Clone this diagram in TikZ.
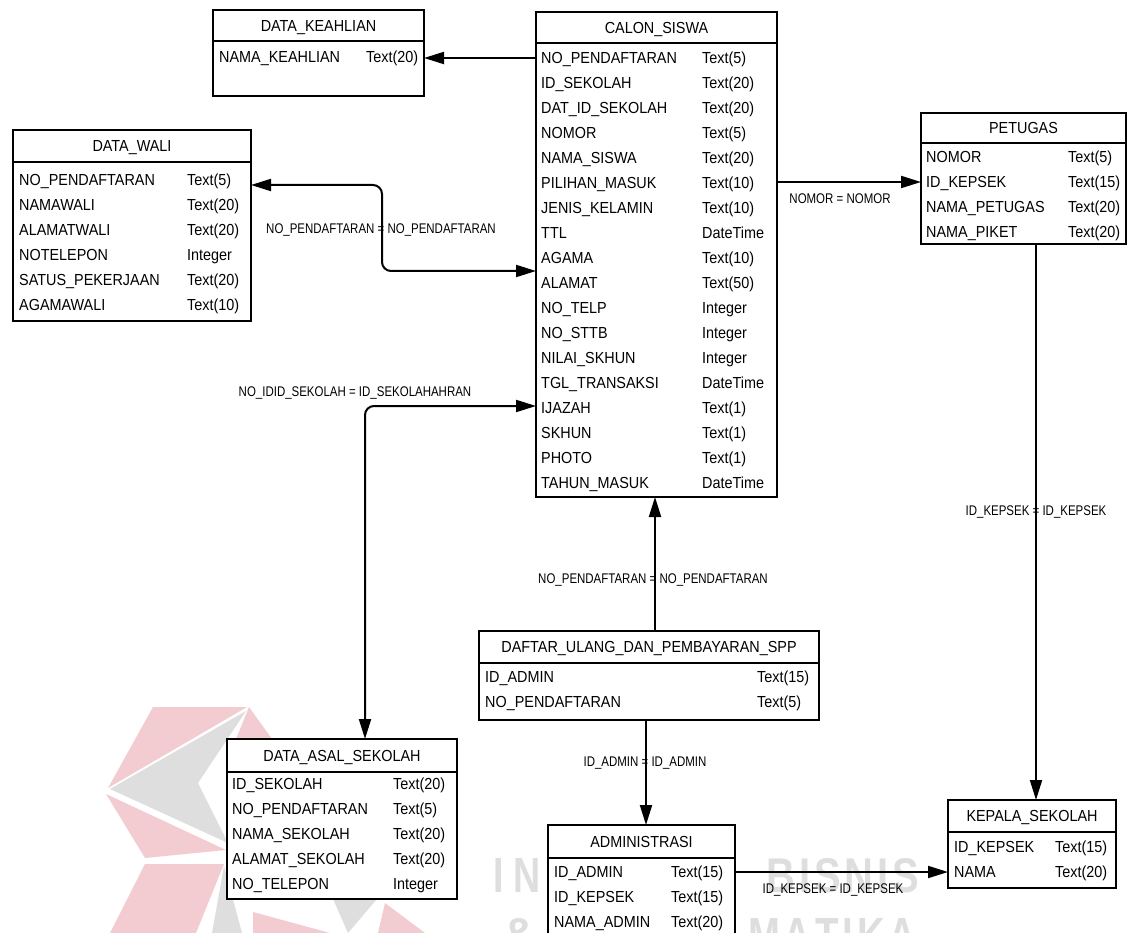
\documentclass[tikz,border=0pt]{standalone}
\usepackage{fontspec}
\usepackage{graphicx}
\setmainfont{Liberation Sans}
\newfontfamily\tblfont[FakeStretch=0.9]{Liberation Sans}
\newfontfamily\relfont[FakeStretch=0.82]{Liberation Sans}
\usetikzlibrary{arrows.meta}

\definecolor{wmpink}{HTML}{F2CCD0}
\definecolor{wmgray}{HTML}{DEDEDE}

\tikzset{
  tablebox/.style={draw, line width=1.6pt, fill=white, inner sep=0pt, outer sep=0pt},
  hdr/.style={line width=1.6pt},
  cell/.style={anchor=base west, inner sep=0pt, font=\tblfont\fontsize{16}{16}\selectfont},
  ttl/.style={anchor=base, inner sep=0pt, font=\tblfont\fontsize{16}{16}\selectfont},
  rel/.style={line width=2pt},
  arr/.style={-{Triangle[length=20pt,width=12pt]}},
  arrboth/.style={{Triangle[length=20pt,width=12pt]}-{Triangle[length=20pt,width=12pt]}},
  lbl/.style={anchor=base, inner sep=0pt, font=\relfont\fontsize{14}{14}\selectfont},
  wmpart/.style={fill=wmpink, draw=none},
  wmgrey/.style={fill=wmgray, draw=none},
  wmword/.style={anchor=north west, inner sep=0pt, text=wmgray},
}

% table frame with a title band: name, left, top, right, bottom, title rule y, title
\newcommand{\entity}[7]{%
  \node[tablebox, minimum width={(#4)-(#2)}, minimum height={(#5)-(#3)}]
    (#1) at ({((#2)+(#4))/2},{((#3)+(#5))/2}) {};
  \draw[hdr] (#1.west |- 0,#6) -- (#1.east |- 0,#6);
  \node[ttl] (#1-title) at ({((#2)+(#4))/2},{((#3)+(#6))/2+5.7}) {#7};
}
% column rows: prefix, name x, type x, first row y, list of name/type
\newcommand{\fields}[5]{%
  \foreach \fn/\ft [count=\i from 0] in {#5} {
    \node[cell] (#1-n\i) at (#2,{#4+25*\i+5.7}) {\fn};
    \node[cell] (#1-t\i) at (#3,{#4+25*\i+5.7}) {\ft};
  }%
}

\begin{document}
\begin{tikzpicture}[x=1pt, y=-1pt]
\useasboundingbox (0,0) rectangle (1132,933);
\fill[white] (0,0) rectangle (1132,933);

% ---- faint logo and lettering in the background ----
\fill[wmpart] (153,707) -- (247,707) -- (108,788) -- cycle;
\fill[wmpart] (249,707) -- (272,739) -- (236,739) -- cycle;
\fill[wmgrey] (110,789) -- (246,711) -- (198,783) -- (228,843) -- cycle;
\fill[wmpart] (106,794) -- (226,850) -- (145,858) -- cycle;
\fill[wmpart] (145,864) -- (224,864) -- (196,933) -- (110,933) -- cycle;
\fill[wmgrey] (224,866) -- (242,933) -- (212,933) -- cycle;
\fill[wmpart] (253,912) -- (330,933) -- (253,933) -- cycle;
\fill[wmgrey] (333,899) -- (377,899) -- (348,933) -- cycle;
\fill[wmpart] (385,903) -- (425,933) -- (378,933) -- cycle;
\node[wmword] (wm1) at (493,858) {\resizebox{47pt}{34pt}{\bfseries I\kern0.25em N}};
\node[wmword] (wm2) at (766,858) {\resizebox{153pt}{34pt}{\bfseries B\kern0.1em I\kern0.1em S\kern0.1em N\kern0.1em I\kern0.1em S}};
\node[wmword] (wm3) at (501,918) {\resizebox{36pt}{34pt}{\bfseries \&}};
\node[wmword] (wm4) at (748,918) {\resizebox{168pt}{34pt}{\bfseries M\kern0.1em A\kern0.1em T\kern0.1em I\kern0.1em K\kern0.1em A}};

% ---- tables ----
\entity{keahlian}{213}{10}{424}{96}{41}{DATA\_KEAHLIAN}
\fields{keahlian}{219}{366}{57}{NAMA\_KEAHLIAN/Text(20)}

\entity{calon}{536}{12}{777}{497}{43}{CALON\_SISWA}
\fields{calon}{541}{702}{58}{NO\_PENDAFTARAN/Text(5), ID\_SEKOLAH/Text(20),
  DAT\_ID\_SEKOLAH/Text(20), NOMOR/Text(5), NAMA\_SISWA/Text(20),
  PILIHAN\_MASUK/Text(10), JENIS\_KELAMIN/Text(10), TTL/DateTime,
  AGAMA/Text(10), ALAMAT/Text(50), NO\_TELP/Integer, NO\_STTB/Integer,
  NILAI\_SKHUN/Integer, TGL\_TRANSAKSI/DateTime, IJAZAH/Text(1),
  SKHUN/Text(1), PHOTO/Text(1), TAHUN\_MASUK/DateTime}

\entity{wali}{13}{130}{251}{321}{162}{DATA\_WALI}
\fields{wali}{19}{187}{180}{NO\_PENDAFTARAN/Text(5), NAMAWALI/Text(20),
  ALAMATWALI/Text(20), NOTELEPON/Integer, SATUS\_PEKERJAAN/Text(20),
  AGAMAWALI/Text(10)}

\entity{petugas}{921}{113}{1126}{244}{143}{PETUGAS}
\fields{petugas}{926}{1068}{157}{NOMOR/Text(5), ID\_KEPSEK/Text(15),
  NAMA\_PETUGAS/Text(20), NAMA\_PIKET/Text(20)}

\entity{daftar}{479}{631}{819}{720}{663}{DAFTAR\_ULANG\_DAN\_PEMBAYARAN\_SPP}
\fields{daftar}{485}{757}{677}{ID\_ADMIN/Text(15), NO\_PENDAFTARAN/Text(5)}

\entity{asal}{227}{739}{457}{899}{772}{DATA\_ASAL\_SEKOLAH}
\fields{asal}{232}{393}{784}{ID\_SEKOLAH/Text(20), NO\_PENDAFTARAN/Text(5),
  NAMA\_SEKOLAH/Text(20), ALAMAT\_SEKOLAH/Text(20), NO\_TELEPON/Integer}

\entity{admin}{548}{825}{735}{950}{858}{ADMINISTRASI}
\fields{admin}{554}{671}{872}{ID\_ADMIN/Text(15), ID\_KEPSEK/Text(15),
  NAMA\_ADMIN/Text(20)}

\entity{kepala}{948}{800}{1116}{888}{832}{KEPALA\_SEKOLAH}
\fields{kepala}{954}{1055}{847}{ID\_KEPSEK/Text(15), NAMA/Text(20)}

% ---- references ----
\draw[rel, arr] (calon.west |- 0,58) -- (keahlian.east |- 0,58);
\draw[rel, arrboth, rounded corners=9pt]
  (wali.east |- 0,185) -| (382,228) |- (calon.west |- 0,271);
\draw[rel, arrboth, rounded corners=9pt]
  (calon.west |- 0,406) -| (asal.north -| 365,0);
\draw[rel, arr] (daftar.north -| 655,0) -- (calon.south -| 655,0);
\draw[rel, arr] (daftar.south -| 646,0) -- (admin.north -| 646,0);
\draw[rel, arr] (calon.east |- 0,182) -- (petugas.west |- 0,182);
\draw[rel, arr] (petugas.south -| 1036,0) -- (kepala.north -| 1036,0);
\draw[rel, arr] (admin.east |- 0,872) -- (kepala.west |- 0,872);

% ---- reference labels ----
\node[lbl] (r1) at (381,234) {NO\_PENDAFTARAN = NO\_PENDAFTARAN};
\node[lbl] (r2) at (355,396) {NO\_IDID\_SEKOLAH = ID\_SEKOLAHAHRAN};
\node[lbl] (r3) at (840,204) {NOMOR = NOMOR};
\node[lbl] (r4) at (1036,515) {ID\_KEPSEK = ID\_KEPSEK};
\node[lbl] (r5) at (653,583) {NO\_PENDAFTARAN = NO\_PENDAFTARAN};
\node[lbl] (r6) at (645,766) {ID\_ADMIN = ID\_ADMIN};
\node[lbl] (r7) at (833,893) {ID\_KEPSEK = ID\_KEPSEK};
\end{tikzpicture}
\end{document}
